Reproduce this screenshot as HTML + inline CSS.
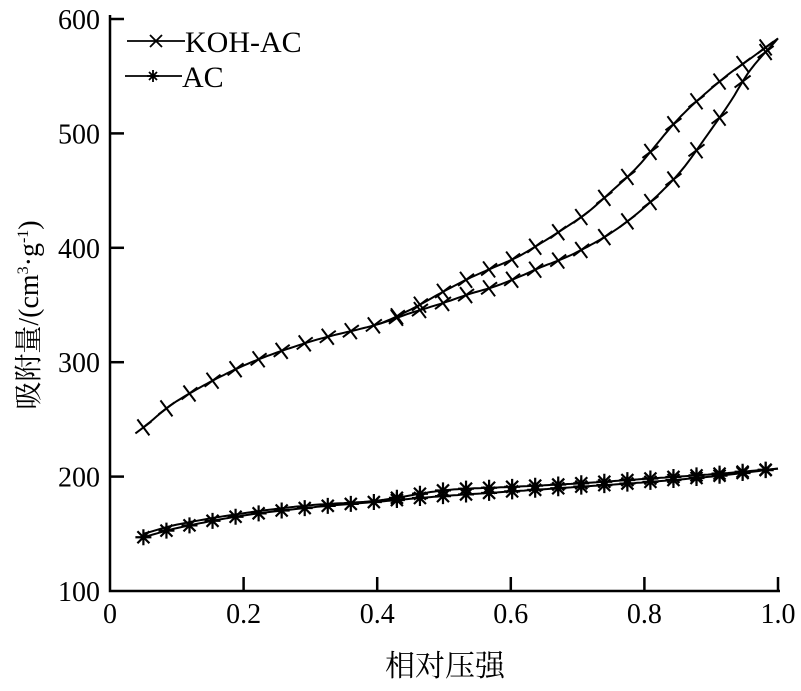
<!DOCTYPE html>
<html><head><meta charset="utf-8"><style>
body{margin:0;background:#fff}
svg text{font-family:"Liberation Serif","Noto Serif CJK SC",serif;fill:#000}
</style></head><body>
<svg id="s" width="801" height="686" xmlns="http://www.w3.org/2000/svg">
<g stroke="#000" stroke-width="2.5" fill="none">
<path d="M110,15 V591 H780"/>
</g>
<g id="ticks" stroke="#000" stroke-width="2.5"></g>
<g font-size="28" text-anchor="end" id="yl"></g>
<g font-size="28" text-anchor="middle" id="xl"></g>
<text x="445" y="676" font-size="30" text-anchor="middle">相对压强</text>
<text transform="translate(38,315) rotate(-90)" font-size="28" text-anchor="middle">吸附量/(cm<tspan font-size="16" dy="-10">3</tspan><tspan dy="10">·g</tspan><tspan font-size="16" dy="-10">-1</tspan><tspan dy="10">)</tspan></text>
<g id="data" stroke="#000" fill="none" stroke-width="2"></g>
<g stroke="#000" stroke-width="1.8">
<line x1="127" y1="41" x2="185" y2="41"/>
<path d="M150,35 Q156,41 162,47 M162,35 Q156,41 150,47" fill="none"/>
<line x1="125" y1="76" x2="182" y2="76"/>
<path d="M147,76h12M153,70v12M149,72l8,8M157,72l-8,8"/>
</g>
<text x="185" y="52" font-size="30">KOH-AC</text>
<text x="182" y="87" font-size="30">AC</text>
</svg>
<script>
const X=x=>110+668*x, Y=v=>591-(v-100)*1.144;
const ns="http://www.w3.org/2000/svg";
function el(p,t,a){const e=document.createElementNS(ns,t);for(const k in a)e.setAttribute(k,a[k]);document.getElementById(p).appendChild(e);return e;}
for(let i=1;i<=5;i++){el("ticks","line",{x1:X(i*0.2),y1:591,x2:X(i*0.2),y2:577});}
for(let v=200;v<=600;v+=100){el("ticks","line",{x1:110,y1:Y(v),x2:124,y2:Y(v)});}
for(let v=100;v<=600;v+=100){el("yl","text",{x:100,y:Y(v)+10}).textContent=v;}
["0","0.2","0.4","0.6","0.8","1.0"].forEach((t,i)=>{el("xl","text",{x:X(i*0.2),y:623}).textContent=t;});
function interp(p,x){
 for(let i=0;i<p.length-1;i++){
  if(x>=p[i][0]&&x<=p[i+1][0]){
   const h=p[i+1][0]-p[i][0];
   const sl=(a,b)=>(p[b][1]-p[a][1])/(p[b][0]-p[a][0]);
   const m0=i>0?(sl(i-1,i+1)):sl(i,i+1);
   const m1=i<p.length-2?(sl(i,i+2)):sl(i,i+1);
   const t=(x-p[i][0])/h,t2=t*t,t3=t2*t;
   return (2*t3-3*t2+1)*p[i][1]+(t3-2*t2+t)*h*m0+(-2*t3+3*t2)*p[i+1][1]+(t3-t2)*h*m1;
  }}
 return p[p.length-1][1];}
const kA=[[0.05,243],[0.1,266],[0.2,297],[0.3,318],[0.4,333],[0.45,343],[0.5,352],[0.54,360],[0.575,366],[0.61,374],[0.645,383],[0.68,391],[0.715,401],[0.75,413],[0.783,427],[0.82,446],[0.856,468],[0.891,496],[0.928,527],[0.958,555],[1,583]];
const kD=[[0.3,318],[0.4,333],[0.45,346],[0.5,362],[0.54,374],[0.575,383],[0.61,392],[0.645,404],[0.68,417],[0.715,431],[0.75,449],[0.79,471],[0.853,514],[0.918,548],[0.96,566],[1,583]];
const aA=[[0.05,147],[0.1,155],[0.2,166],[0.3,173],[0.4,178],[0.5,183],[0.6,187],[0.7,191],[0.8,195],[0.9,200],[1,207]];
const aD=[[0.05,150],[0.1,158],[0.2,168],[0.3,175],[0.4,179],[0.5,188],[0.6,191],[0.7,194],[0.8,198],[0.9,202],[1,207]];
function line(pts,x0){let d="";for(let x=x0;x<=1.0001;x+=0.005){d+=(d?"L":"M")+X(x).toFixed(1)+","+Y(interp(pts,x)).toFixed(1);}el("data","path",{d});}
line(kA,0.05);line(kD,0.4);line(aA,0.05);line(aD,0.05);
const xs=[];for(let x=0.05;x<=1.0001;x+=0.0345)xs.push(Math.min(x,1));
function mx(x,y){el("data","path",{d:`M${x-6},${y-8}Q${x},${y} ${x+6},${y+8}M${x+8},${y-6}Q${x},${y} ${x-8},${y+6}`});}
function ast(x,y){el("data","path",{d:`M${x-8},${y}h16M${x},${y-8}v16M${x-6},${y-6}l12,12M${x+6},${y-6}l-12,12`,"stroke-width":"2.2"});}
xs.forEach(x=>{mx(X(x),Y(interp(kA,x)));if(x>0.4)mx(X(x),Y(interp(kD,x)));ast(X(x),Y(interp(aA,x)));if(x>0.4)ast(X(x),Y(interp(aD,x)));});
</script>
</body></html>
